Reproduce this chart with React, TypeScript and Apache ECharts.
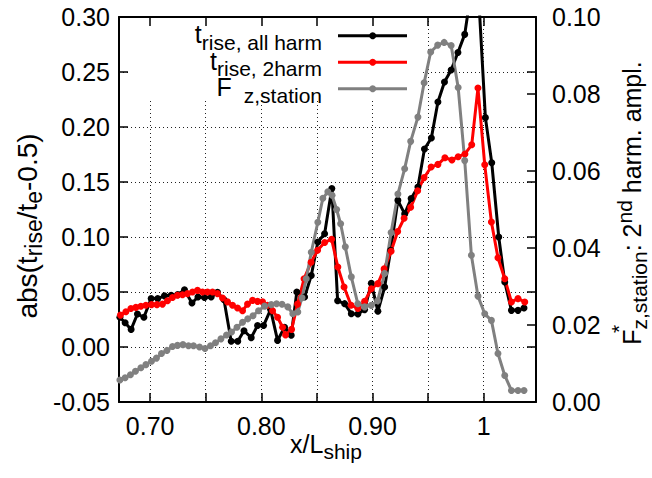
import React, { useEffect, useRef } from 'react';
import * as echarts from 'echarts';

// ---- data (x / L_ship stations and values) ----
const allHarmX = [0.6728,0.6775,0.6829,0.6886,0.6944,0.7009,0.7068,0.7129,0.7189,0.7248,0.7309,0.7376,0.7430,0.7489,0.7549,0.7606,0.7664,0.7729,0.7788,0.7844,0.7909,0.7966,0.8020,0.8083,0.8146,0.8209,0.8269,0.8319,0.8389,0.8449,0.8508,0.8569,0.8634,0.8686,0.8749,0.8809,0.8868,0.8929,0.8989,0.9048,0.9109,0.9163,0.9228,0.9289,0.9347,0.9408,0.9467,0.9529,0.9588,0.9647,0.9707,0.9768,0.9829,0.9889,0.9948,1.0015,1.0072,1.0135,1.0189,1.0249,1.0308,1.0362];
const allHarmY = [0.027,0.022,0.016,0.030,0.027,0.044,0.044,0.0465,0.047,0.0476,0.052,0.040,0.0455,0.045,0.0455,0.0497,0.043,0.0053,0.0053,0.0148,0.0085,0.0195,0.0195,0.034,0.006,0.018,0.0107,0.050,0.0455,0.065,0.0955,0.103,0.144,0.042,0.0394,0.0303,0.030,0.034,0.058,0.0325,0.0545,0.088,0.1333,0.121,0.135,0.1455,0.180,0.190,0.2227,0.2409,0.2518,0.2678,0.2842,0.325,0.33,0.2085,0.1675,0.100,0.0591,0.0333,0.0333,0.0355];

const twoHarmX = [0.6733,0.6782,0.6827,0.6872,0.6917,0.6962,0.7012,0.7061,0.7111,0.7156,0.7201,0.7246,0.7291,0.7336,0.7381,0.7426,0.7471,0.7516,0.7561,0.7606,0.7651,0.7696,0.7741,0.7786,0.7831,0.7876,0.7921,0.7966,0.8011,0.8056,0.8101,0.8146,0.8191,0.8218,0.8272,0.8326,0.8384,0.8447,0.8506,0.8569,0.8632,0.8688,0.8744,0.8807,0.8868,0.8929,0.8989,0.9048,0.9104,0.9167,0.9226,0.9284,0.9343,0.9406,0.9464,0.9527,0.9588,0.9651,0.9714,0.9770,0.9831,0.9892,0.9948,1.0009,1.0069,1.0128,1.0189,1.0249,1.0308,1.0369];
const twoHarmY = [0.029,0.032,0.035,0.036,0.037,0.038,0.0385,0.0385,0.039,0.042,0.045,0.047,0.0475,0.0485,0.050,0.0515,0.050,0.050,0.050,0.0485,0.0446,0.041,0.038,0.0355,0.033,0.039,0.0424,0.0415,0.041,0.038,0.033,0.027,0.018,0.011,0.016,0.039,0.062,0.077,0.088,0.095,0.098,0.0727,0.0545,0.038,0.035,0.0415,0.053,0.0576,0.071,0.087,0.105,0.117,0.127,0.142,0.154,0.1636,0.166,0.172,0.170,0.173,0.1755,0.1838,0.2354,0.1656,0.1136,0.0812,0.0621,0.0409,0.044,0.0409];

const fzX = [0.6728,0.6775,0.6823,0.6868,0.6917,0.6962,0.7012,0.7057,0.7102,0.7151,0.7201,0.7246,0.7295,0.7345,0.7390,0.7444,0.7493,0.7543,0.7588,0.7637,0.7687,0.7732,0.7781,0.7831,0.7878,0.7925,0.7975,0.8029,0.8089,0.8137,0.8186,0.8238,0.8283,0.8328,0.8366,0.8404,0.8449,0.8508,0.8553,0.8598,0.8636,0.8677,0.8713,0.8755,0.8809,0.8868,0.8929,0.8989,0.9046,0.9109,0.9167,0.9228,0.9289,0.9343,0.9408,0.9464,0.9523,0.9586,0.9644,0.9707,0.9770,0.9829,0.9889,0.9948,1.0009,1.0069,1.0128,1.0189,1.0249,1.0308,1.0362];
const fzY = [0.0057,0.0063,0.0071,0.0080,0.0089,0.0097,0.0106,0.0114,0.0126,0.0134,0.0144,0.0147,0.0149,0.0146,0.0146,0.0143,0.0139,0.0146,0.0154,0.0164,0.0174,0.0182,0.0194,0.0207,0.0216,0.0224,0.0237,0.0249,0.0253,0.0255,0.0254,0.0247,0.0229,0.0234,0.0271,0.0320,0.0389,0.0467,0.0529,0.0546,0.0537,0.0500,0.0463,0.0403,0.0325,0.0255,0.0247,0.0251,0.0263,0.0334,0.0440,0.0540,0.0606,0.0677,0.0740,0.0829,0.0909,0.0927,0.0934,0.0926,0.0817,0.0627,0.0381,0.0275,0.0229,0.0212,0.0126,0.0069,0.0030,0.0030,0.0030];

const xRange = [0.672, 1.047];
const yLeftRange = [-0.05, 0.30];
const yLeftStep = 0.05;
const yRightRange = [0, 0.10];
const yRightStep = 0.02;

const seriesColors = ['#000000', '#ff0000', '#808080'];
const legendMain = ['t', 't', 'F'];
const legendSub = ['rise, all harm', 'rise, 2harm', 'z,station'];

const FONT = '"Liberation Sans", Arial, Helvetica, sans-serif';

const pairs = (xs: number[], ys: number[]) => xs.map((x, i) => [x, ys[i]]);

const makeRich = (main: number, sub: number) => ({
  m: { fontSize: main, lineHeight: 36, fontFamily: FONT, color: '#000' },
  s: { fontSize: sub, lineHeight: 18, fontFamily: FONT, color: '#000', verticalAlign: 'bottom' },
  p: { fontSize: sub, lineHeight: 18, fontFamily: FONT, color: '#000', verticalAlign: 'top' },
});

const measure = (text: string, size: number) => {
  const ctx = document.createElement('canvas').getContext('2d');
  if (!ctx) return text.length * size * 0.5;
  ctx.font = `${size}px ${FONT}`;
  return ctx.measureText(text).width;
};

export default function App() {
  const ref = useRef<HTMLDivElement>(null);
  useEffect(() => {
    if (!ref.current) return;
    const chart = echarts.init(ref.current, undefined, { renderer: 'svg' });

    const rich = makeRich(25, 21);
    const richY = makeRich(28, 23);

    const gridLine = { show: true, lineStyle: { color: '#222', width: 1, type: [1, 3] } };
    const tick = { show: true, inside: true, length: 9, lineStyle: { color: '#000', width: 1.5 } };
    const frame = { show: true, onZero: false, lineStyle: { color: '#000', width: 2 } };
    const labelStyle = { color: '#000', fontSize: 25, fontFamily: FONT };

    const xFmt = (v: number) => {
      const r = Math.round(v * 100);
      if (Math.abs(v * 100 - r) > 1e-6) return '';
      if (r % 10 !== 0) return '';
      return r === 100 ? '1' : (r / 100).toFixed(2);
    };

    const legendRowsY = [35.7, 62.3, 88.7];
    const legendGap = [0, 0, 12];
    const legendTextRight = 322;
    const legendEls: any[] = [];
    legendRowsY.forEach((y, i) => {
      const subW = measure(legendSub[i], 21);
      legendEls.push({
        type: 'text', x: legendTextRight, y: y + 6.5, z: 10,
        style: { text: legendSub[i], fontSize: 21, lineHeight: 15, fontFamily: FONT, fill: '#000', align: 'right', verticalAlign: 'middle' },
      });
      legendEls.push({
        type: 'text', x: legendTextRight - subW - legendGap[i], y: y - 1.5, z: 10,
        style: { text: legendMain[i], fontSize: 25, lineHeight: 18, fontFamily: FONT, fill: '#000', align: 'right', verticalAlign: 'middle' },
      });
      legendEls.push({
        type: 'line', z: 10,
        shape: { x1: 338, y1: y, x2: 407, y2: y },
        style: { stroke: seriesColors[i], lineWidth: 3 },
      });
      legendEls.push({
        type: 'circle', z: 10,
        shape: { cx: 372.7, cy: y, r: 3.5 },
        style: { fill: seriesColors[i] },
      });
    });

    const mkSeries = (name: string, data: number[][], color: string, yAxisIndex: number) => ({
      name, type: 'line', data, xAxisIndex: 0, yAxisIndex,
      symbol: 'circle', symbolSize: 7, showSymbol: true,
      lineStyle: { color, width: 3 }, itemStyle: { color },
      clip: true, z: 3,
    });

    chart.setOption({
      animation: false,
      backgroundColor: '#ffffff',
      textStyle: { fontFamily: FONT },
      grid: { left: 119, top: 17, right: 116, bottom: 76, containLabel: false, outerBoundsMode: 'none' },
      xAxis: [
        {
          type: 'value', position: 'bottom', min: xRange[0], max: xRange[1], splitNumber: 8,
          axisLine: frame, axisTick: tick, splitLine: gridLine,
          axisLabel: { ...labelStyle, margin: 11, interval: 0, hideOverlap: false, formatter: xFmt },
        },
        {
          type: 'value', position: 'top', min: xRange[0], max: xRange[1], splitNumber: 8, z: 5,
          axisLine: frame, axisTick: tick, splitLine: { show: false }, axisLabel: { show: false },
        },
      ],
      yAxis: [
        {
          type: 'value', position: 'left', min: yLeftRange[0], max: yLeftRange[1], interval: yLeftStep,
          axisLine: frame, axisTick: tick, splitLine: gridLine,
          axisLabel: { ...labelStyle, margin: 9, formatter: (v: number) => v.toFixed(2) },
        },
        {
          type: 'value', position: 'right', min: yRightRange[0], max: yRightRange[1], interval: yRightStep,
          axisLine: frame, axisTick: tick, splitLine: { show: false },
          axisLabel: { ...labelStyle, margin: 16, formatter: (v: number) => v.toFixed(2) },
        },
        {
          type: 'value', position: 'right', min: yLeftRange[0], max: yLeftRange[1], interval: yLeftStep,
          axisLine: { show: false }, axisTick: tick, splitLine: { show: false }, axisLabel: { show: false },
        },
      ],
      series: [
        mkSeries('t_rise, all harm', pairs(allHarmX, allHarmY), seriesColors[0], 0),
        mkSeries('t_rise, 2harm', pairs(twoHarmX, twoHarmY), seriesColors[1], 0),
        mkSeries('F_z,station', pairs(fzX, fzY), seriesColors[2], 1),
      ],
      graphic: {
        elements: [
          { type: 'rect', z: 1, shape: { x: 131, y: 18.5, width: 290, height: 82 }, style: { fill: '#ffffff' } },
          ...legendEls,
          {
            type: 'text', x: 27, y: 226, rotation: Math.PI / 2, z: 10,
            style: { text: '{m|abs(t}{s|rise}{m|/t}{s|e}{m|-0.5)}', rich: richY, align: 'center', verticalAlign: 'middle' },
          },
          {
            type: 'text', x: 326, y: 444, z: 10,
            style: { text: '{m|x/L}{s|ship}', rich, align: 'center', verticalAlign: 'middle' },
          },
          {
            type: 'text', x: 632, y: 203, rotation: Math.PI / 2, z: 10,
            style: { text: '{m|F}{s|z,station}{m|: 2}{p|nd}{m| harm. ampl.}', rich, align: 'center', verticalAlign: 'middle' },
          },
          {
            type: 'text', x: 618, y: 329, rotation: Math.PI / 2, z: 10,
            style: { text: '*', fontSize: 21, fontFamily: FONT, fill: '#000', align: 'center', verticalAlign: 'middle' },
          },
        ],
      },
    });
    return () => chart.dispose();
  }, []);
  return <div ref={ref} style={{ position: 'absolute', left: 0, top: 0, width: 652, height: 478 }} />;
}
